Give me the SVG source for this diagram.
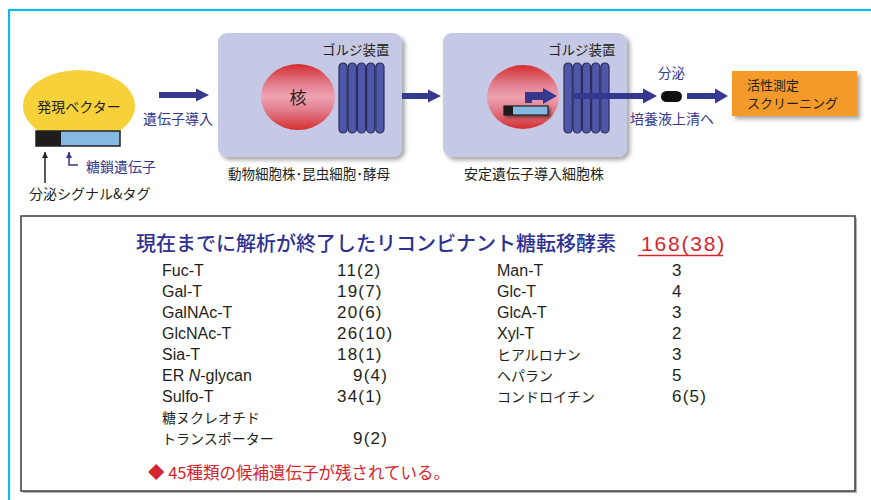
<svg xmlns="http://www.w3.org/2000/svg" width="871" height="500" viewBox="0 0 871 500">
  <defs>
    <linearGradient id="nucleus" x1="0" y1="0" x2="0" y2="1">
      <stop offset="0" stop-color="#d42e30"/>
      <stop offset="0.3" stop-color="#e27d8c"/>
      <stop offset="0.5" stop-color="#eea3b3"/>
      <stop offset="0.7" stop-color="#e27d8c"/>
      <stop offset="1" stop-color="#d42e30"/>
    </linearGradient>
    <filter id="shadow" x="-10%" y="-10%" width="125%" height="130%">
      <feDropShadow dx="3" dy="3" stdDeviation="2" flood-color="#000" flood-opacity="0.35"/>
    </filter>
    <filter id="smallShadow" x="-20%" y="-40%" width="150%" height="200%">
      <feDropShadow dx="2" dy="2" stdDeviation="1.5" flood-color="#000" flood-opacity="0.45"/>
    </filter>
    <marker id="blackHead" viewBox="0 0 10 10" refX="10" refY="5" markerWidth="6" markerHeight="7" markerUnits="userSpaceOnUse" orient="auto">
      <path d="M0,0 L10,5 L0,10 z" fill="#222"/>
    </marker>
    <marker id="blueHead" viewBox="0 0 10 10" refX="10" refY="5" markerWidth="6" markerHeight="7" markerUnits="userSpaceOnUse" orient="auto">
      <path d="M0,0 L10,5 L0,10 z" fill="#34398f"/>
    </marker>
    <!-- Golgi stack: five cisternae -->
    <g id="golgi" fill="#4f57a8" stroke="#2a2d58" stroke-width="1.2">
      <rect x="0" y="0" width="8.2" height="70" rx="4.1"/>
      <rect x="9.2" y="0" width="8.2" height="70" rx="4.1"/>
      <rect x="18.4" y="0" width="8.2" height="70" rx="4.1"/>
      <rect x="27.6" y="0" width="8.2" height="70" rx="4.1"/>
      <rect x="36.8" y="0" width="8.2" height="70" rx="4.1"/>
    </g>
  </defs>
  <style>
    .jp { font-family: "Noto Sans CJK JP", "Noto Sans", sans-serif; }
    .lat { font-family: "Liberation Sans", "Noto Sans CJK JP", sans-serif; }
    .dark { fill: #231f20; }
    .blue { fill: #34398f; }
    .red { fill: #d5252d; }
    .cell { fill: #c6c9e6; }
    .arrow { fill: #34398f; }
    .list { font-size: 16px; fill: #231f20; }
    .num { font-size: 17px; letter-spacing: 1.2px; fill: #231f20; }
    .listjp { font-size: 14px; fill: #231f20; }
  </style>

  <rect width="871" height="500" fill="#ffffff"/>
  <!-- outer frame -->
  <rect x="9" y="10" width="880" height="520" fill="none" stroke="#12b7ec" stroke-width="2.2"/>

  <!-- expression vector -->
  <g id="vector">
    <ellipse cx="79" cy="106" rx="56" ry="36" fill="#f6d13a"/>
    <rect x="36" y="131" width="25" height="15" fill="#1e1c1c"/>
    <rect x="61" y="131" width="59" height="15" fill="#86b9e2"/>
    <rect x="36" y="131" width="84" height="15" fill="none" stroke="#222" stroke-width="1.5"/>
    <text x="79" y="112" class="jp dark" font-size="14" text-anchor="middle">発現ベクター</text>
  </g>

  <g id="signal-label">
    <text x="29" y="199" class="jp dark" font-size="14">分泌シグナル&amp;タグ</text>
  </g>
  <g id="gene-label">
    <text x="86" y="172" class="jp blue" font-size="14">糖鎖遺伝子</text>
  </g>

  <!-- cell line 1 -->
  <g id="cell1">
    <rect x="218" y="33" width="184" height="124" rx="9" class="cell" filter="url(#shadow)"/>
    <ellipse cx="298" cy="97" rx="37" ry="33" fill="url(#nucleus)"/>
    <text x="298" y="104" class="jp dark" font-size="17" text-anchor="middle">核</text>
    <use href="#golgi" x="339" y="63"/>
    <text x="322" y="55" class="jp dark" font-size="13.5">ゴルジ装置</text>
    <text x="309" y="179" class="jp dark" font-size="13.5" text-anchor="middle">動物細胞株･昆虫細胞･酵母</text>
  </g>

  <!-- cell line 2 -->
  <g id="cell2">
    <rect x="443" y="33" width="184" height="124" rx="9" class="cell" filter="url(#shadow)"/>
    <ellipse cx="523" cy="97" rx="36" ry="32" fill="url(#nucleus)"/>
    <g filter="url(#smallShadow)">
      <rect x="504" y="106" width="9" height="9" fill="#1e1c1c"/>
      <rect x="513" y="106" width="35" height="9" fill="#86b9e2"/>
      <rect x="504" y="106" width="44" height="9" fill="none" stroke="#222" stroke-width="1.2"/>
    </g>
    <path d="M525,103 L525,92 L543,92 L543,88 L557,96 L543,104 L543,100 L532,100 L532,103 z" class="arrow"/>
    <use href="#golgi" x="564" y="63"/>
    <text x="548" y="55" class="jp dark" font-size="13.5">ゴルジ装置</text>
    <text x="534" y="179" class="jp dark" font-size="14" text-anchor="middle">安定遺伝子導入細胞株</text>
  </g>

  <!-- secreted product -->
  <g id="product">
    <rect x="661" y="91" width="21" height="11" rx="5.5" fill="#111"/>
  </g>

  <!-- screening -->
  <g id="screening">
    <rect x="732" y="71" width="125" height="45" fill="#f49a2b" filter="url(#shadow)"/>
    <text x="747" y="89.5" class="jp dark" font-size="13">活性測定</text>
    <text x="747" y="108" class="jp dark" font-size="13">スクリーニング</text>
  </g>

  <!-- connectors -->
  <g id="connectors">
    <line x1="45" y1="183" x2="45" y2="152" stroke="#222" stroke-width="1.5" marker-end="url(#blackHead)"/>
    <polyline points="78,165 69,165 69,152" fill="none" stroke="#34398f" stroke-width="1.5" marker-end="url(#blueHead)"/>
    <path d="M159,92 L196,92 L196,88.5 L209,95 L196,101.5 L196,98 L159,98 z" class="arrow"/>
    <path d="M402,93 L428,93 L428,89.5 L441,96 L428,102.5 L428,99 L402,99 z" class="arrow"/>
    <path d="M574,93 L643,93 L643,88.5 L657,96 L643,103.5 L643,99 L574,99 z" class="arrow"/>
    <path d="M687,93 L715,93 L715,88.5 L728,96 L715,103.5 L715,99 L687,99 z" class="arrow"/>
    <text x="143" y="124" class="jp blue" font-size="14">遺伝子導入</text>
    <text x="658" y="78" class="jp blue" font-size="13.5">分泌</text>
    <text x="630" y="124" class="jp blue" font-size="14">培養液上清へ</text>
  </g>

  <!-- summary table -->
  <g id="summary">
    <rect x="23" y="218" width="834" height="275" fill="#b5b5b5"/>
    <rect x="21" y="216" width="834" height="275" fill="#ffffff" stroke="#3c3c3c" stroke-width="1.5"/>
    <text x="136" y="251" class="jp" font-size="20" font-weight="500" fill="#2e3192">現在までに解析が終了したリコンビナント糖転移酵素</text>
    <text x="641" y="251" class="lat red" font-size="21" letter-spacing="1.8">168(38)</text>
    <line x1="638" y1="255.5" x2="723" y2="255.5" stroke="#d5252d" stroke-width="1.5"/>

    <text class="lat list" x="162" y="276">Fuc-T</text>
    <text class="lat list" x="162" y="297">Gal-T</text>
    <text class="lat list" x="162" y="318">GalNAc-T</text>
    <text class="lat list" x="162" y="339">GlcNAc-T</text>
    <text class="lat list" x="162" y="360">Sia-T</text>
    <text class="lat list" x="162" y="381">ER <tspan font-style="italic">N</tspan>-glycan</text>
    <text class="lat list" x="162" y="402">Sulfo-T</text>
    <text class="jp listjp" x="162" y="423">糖ヌクレオチド</text>
    <text class="jp listjp" x="162" y="444">トランスポーター</text>

    <text class="lat num" x="337" y="276">11(2)</text>
    <text class="lat num" x="337" y="297">19(7)</text>
    <text class="lat num" x="337" y="318">20(6)</text>
    <text class="lat num" x="337" y="339">26(10)</text>
    <text class="lat num" x="337" y="360">18(1)</text>
    <text class="lat num" x="353" y="381">9(4)</text>
    <text class="lat num" x="337" y="402">34(1)</text>
    <text class="lat num" x="353" y="444">9(2)</text>

    <text class="lat list" x="497" y="276">Man-T</text>
    <text class="lat list" x="497" y="297">Glc-T</text>
    <text class="lat list" x="497" y="318">GlcA-T</text>
    <text class="lat list" x="497" y="339">Xyl-T</text>
    <text class="jp listjp" x="497" y="360">ヒアルロナン</text>
    <text class="jp listjp" x="497" y="381">ヘパラン</text>
    <text class="jp listjp" x="497" y="402">コンドロイチン</text>

    <text class="lat num" x="672" y="276">3</text>
    <text class="lat num" x="672" y="297">4</text>
    <text class="lat num" x="672" y="318">3</text>
    <text class="lat num" x="672" y="339">2</text>
    <text class="lat num" x="672" y="360">3</text>
    <text class="lat num" x="672" y="381">5</text>
    <text class="lat num" x="672" y="402">6(5)</text>

    <text x="148" y="479" class="jp red" font-size="16.5">◆ 45種類の候補遺伝子が残されている。</text>
  </g>
</svg>
